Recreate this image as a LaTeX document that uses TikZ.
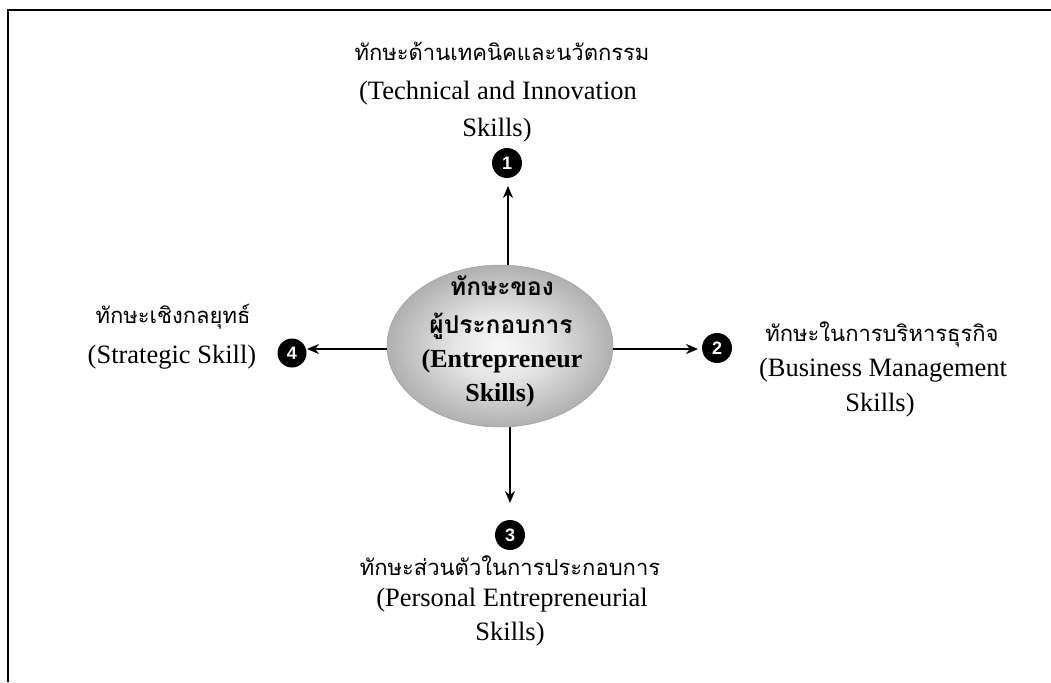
\documentclass[tikz,border=0pt]{standalone}
\usepackage{fontspec}
\setmainfont{Liberation Serif}
\newfontfamily\thaifont[Script=Thai]{Loma}
\newfontfamily\numfont{Liberation Sans}
\usetikzlibrary{arrows.meta,shapes.geometric}

% soft grey ball for the central skill
\pgfdeclareradialshading{ballshade}{\pgfpoint{0bp}{0bp}}{%
  color(0bp)=(white!97!black);
  color(10bp)=(white!90!black);
  color(25bp)=(white!69!black);
  color(50bp)=(white!69!black)}

\begin{document}
\begin{tikzpicture}[x=1pt,y=-1pt,
  en/.style={font=\fontsize{26.5}{30}\selectfont, inner sep=0pt, anchor=base},
  th/.style={font=\thaifont\fontsize{22}{28}\selectfont, inner sep=0pt, anchor=base},
  enb/.style={en, font=\bfseries\fontsize{26}{30}\selectfont},
  thb/.style={th, font=\thaifont\bfseries\fontsize{24.5}{28}\selectfont},
  badge/.style={circle, fill=black, text=white, minimum size=30pt, inner sep=0pt,
    font=\numfont\bfseries\fontsize{18}{18}\selectfont},
  conn/.style={line width=1.9pt, -{Stealth[length=12pt,width=10pt]}},
  frameline/.style={line width=2pt}]
\useasboundingbox (0,0) rectangle (1051,682);

% frame: top and left rules
\draw[frameline] (7.8,682) -- (7.8,10) -- (1051,10);

% central ellipse
\node[ellipse, minimum width=226pt, minimum height=162pt, shading=ballshade,
      draw=white!62!black, line width=0.5pt] (core) at (500,346) {};
\node[thb] (coreA) at (502,295) {ทักษะของ};
\node[thb] (coreB) at (501,333) {ผู้ประกอบการ};
\node[enb] (coreC) at (502,367) {(Entrepreneur};
\node[enb] (coreD) at (500,401) {Skills)};

% numbered badges
\node[badge] (b1) at (507,163) {1};
\node[badge] (b2) at (717,348) {2};
\node[badge] (b3) at (510,535) {3};
\node[badge, minimum size=29pt] (b4) at (292,353) {4};

% arrow tips
\coordinate (p1) at (508,186);
\coordinate (p2) at (698,349);
\coordinate (p3) at (510,503);
\coordinate (p4) at (307,349);

\draw[conn] (core.north -| p1) -- (p1);
\draw[conn] (core.east |- p2) -- (p2);
\draw[conn] (core.south -| p3) -- (p3);
\draw[conn] (core.west |- p4) -- (p4);

% 1: technical and innovation
\node[th] (s1a) at (502,61) {ทักษะด้านเทคนิคและนวัตกรรม};
\node[en] (s1b) at (498,100) {(Technical and Innovation};
\node[en] (s1c) at (497,136) {Skills)};

% 2: business management
\node[th] (s2a) at (882,341) {ทักษะในการบริหารธุรกิจ};
\node[en] (s2b) at (883,376) {(Business Management};
\node[en] (s2c) at (880,411) {Skills)};

% 3: personal entrepreneurial
\node[th] (s3a) at (510,575) {ทักษะส่วนตัวในการประกอบการ};
\node[en] (s3b) at (512,606) {(Personal Entrepreneurial};
\node[en] (s3c) at (510,640) {Skills)};

% 4: strategic
\node[th] (s4a) at (173,323) {ทักษะเชิงกลยุทธ์};
\node[en] (s4b) at (172,363) {(Strategic Skill)};
\end{tikzpicture}
\end{document}
